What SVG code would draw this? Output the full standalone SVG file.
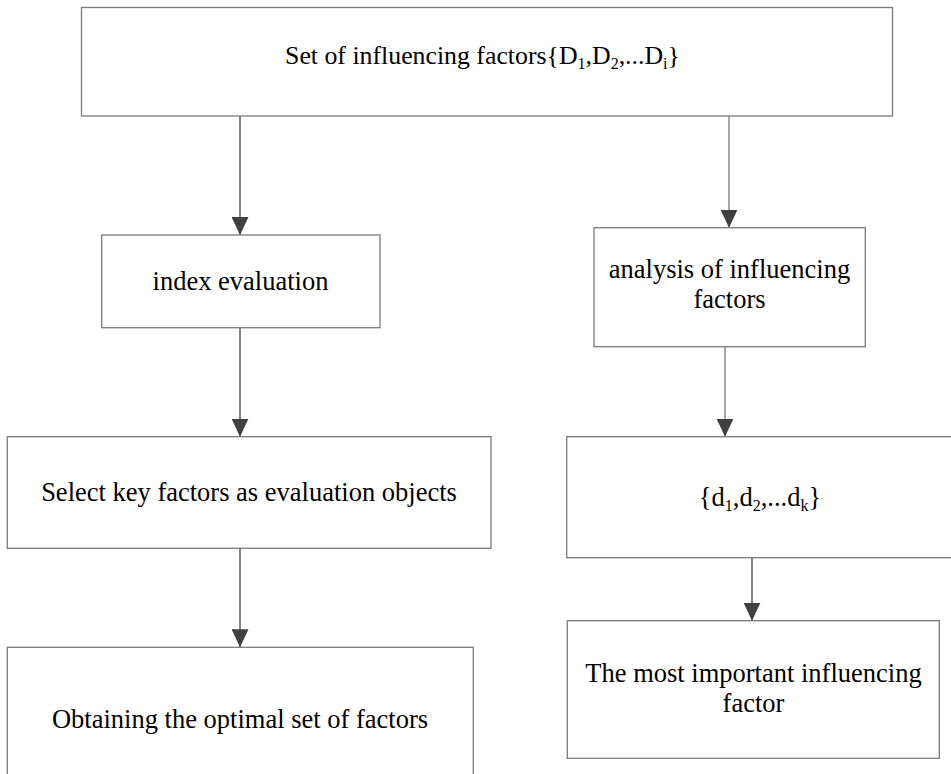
<svg xmlns="http://www.w3.org/2000/svg" width="951" height="774" viewBox="0 0 951 774">
<style>
.box{fill:#fff;stroke:#7a7a7a;stroke-width:1.3}
.t{font-family:"Liberation Serif","Times New Roman",serif;font-size:26.5px;fill:#000;text-anchor:middle}
.sub{font-size:16px}
.cl{stroke:#404040;stroke-width:1.3;fill:none}
.cr{stroke:#8a8a8a;stroke-width:1.5;fill:none}
</style>
<defs>
<marker id="ah" viewBox="0 0 18 17" refX="18" refY="8.5" markerWidth="18" markerHeight="17" markerUnits="userSpaceOnUse" orient="auto">
<path d="M0,0 L18,8.5 L0,17 z" fill="#404040"/>
</marker>
</defs>
<rect width="951" height="774" fill="#fff"/>
<g id="connectors">
<line class="cl" x1="240" y1="116" x2="240" y2="235" marker-end="url(#ah)"/>
<line class="cr" x1="729" y1="116" x2="729" y2="227.7" marker-end="url(#ah)"/>
<line class="cl" x1="240" y1="327.7" x2="240" y2="436.7" marker-end="url(#ah)"/>
<line class="cr" x1="725" y1="346.7" x2="725" y2="436.7" marker-end="url(#ah)"/>
<line class="cl" x1="240" y1="548.3" x2="240" y2="647.3" marker-end="url(#ah)"/>
<line class="cl" x1="752" y1="557.7" x2="752" y2="620.7" marker-end="url(#ah)"/>
</g>
<g id="n_top">
<rect class="box" x="81.5" y="7.5" width="811" height="108.5"/>
<text class="t" x="482.5" y="64.3" style="font-size:25.8px">Set of influencing factors{D<tspan class="sub" dy="5">1</tspan><tspan dy="-5">,D</tspan><tspan class="sub" dy="5">2</tspan><tspan dy="-5">,...D</tspan><tspan class="sub" dy="5">i</tspan><tspan dy="-5">}</tspan></text>
</g>
<g id="n_index">
<rect class="box" x="101.7" y="235" width="278.3" height="92.7"/>
<text class="t" x="240.5" y="290">index evaluation</text>
</g>
<g id="n_analysis">
<rect class="box" x="594" y="227.7" width="271.3" height="119"/>
<text class="t" x="729.5" y="278.3">analysis of influencing</text>
<text class="t" x="729.5" y="308.3">factors</text>
</g>
<g id="n_select">
<rect class="box" x="7.3" y="436.7" width="483.7" height="111.6"/>
<text class="t" x="249" y="500.7">Select key factors as evaluation objects</text>
</g>
<g id="n_d">
<rect class="box" x="566.7" y="436.7" width="386" height="121"/>
<text class="t" x="760" y="505.7">{d<tspan class="sub" dy="5">1</tspan><tspan dy="-5">,d</tspan><tspan class="sub" dy="5">2</tspan><tspan dy="-5">,...d</tspan><tspan class="sub" dy="5">k</tspan><tspan dy="-5">}</tspan></text>
</g>
<g id="n_optimal">
<rect class="box" x="7.3" y="647.3" width="466" height="140"/>
<text class="t" x="240" y="728.3">Obtaining the optimal set of factors</text>
</g>
<g id="n_most">
<rect class="box" x="567.3" y="620.7" width="372" height="137.6"/>
<text class="t" x="753.5" y="681.7">The most important influencing</text>
<text class="t" x="753.5" y="711.7">factor</text>
</g>
</svg>
